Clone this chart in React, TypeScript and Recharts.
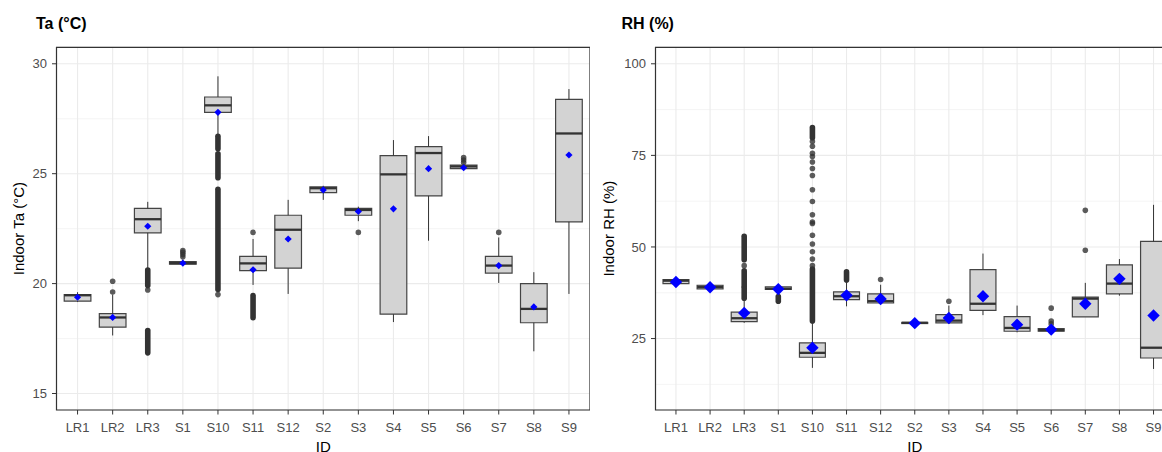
import React from 'react';
import {
  ComposedChart,
  XAxis,
  YAxis,
  CartesianGrid,
  ReferenceArea,
  ReferenceLine,
  Scatter,
  Label,
} from 'recharts';

const FONT = '"Liberation Sans", Arial, sans-serif';

// categories (sites)
const IDS = ['LR1', 'LR2', 'LR3', 'S1', 'S10', 'S11', 'S12', 'S2', 'S3', 'S4', 'S5', 'S6', 'S7', 'S8', 'S9'];

// Indoor Ta (°C) box stats
const TA_LO = [19.16, 17.64, 20.7, 20.86, 26.75, 19.94, 19.53, 23.81, 22.84, 18.25, 21.95, 25.2, 20.03, 16.92, 19.53];
const TA_Q1 = [19.2, 18.02, 22.31, 20.88, 27.79, 20.59, 20.7, 24.14, 23.11, 18.61, 23.99, 25.23, 20.48, 18.22, 22.81];
const TA_MED = [19.47, 18.46, 22.93, 20.93, 28.11, 20.92, 22.45, 24.34, 23.35, 24.97, 25.94, 25.33, 20.82, 18.85, 26.83];
const TA_Q3 = [19.5, 18.63, 23.42, 21.0, 28.49, 21.24, 23.11, 24.4, 23.42, 25.82, 26.23, 25.39, 21.24, 20.0, 28.38];
const TA_HI = [19.61, 19.5, 23.72, 21.1, 29.43, 22.03, 23.81, 24.45, 23.5, 26.53, 26.71, 25.45, 22.1, 20.52, 28.85];
const TA_MEAN = [19.38, 18.46, 22.61, 20.93, 27.79, 20.63, 22.03, 24.26, 23.28, 23.4, 25.23, 25.27, 20.82, 18.94, 25.85];
// single outliers [id, value]
const TA_OUT: [string, number][] = [
  ['LR2', 19.62], ['LR2', 20.11], ['LR3', 19.71], ['S1', 21.22], ['S1', 21.32], ['S1', 21.42], ['S1', 21.5],
  ['S10', 19.5], ['S11', 22.33], ['S3', 22.33], ['S6', 25.51], ['S6', 25.62], ['S6', 25.73], ['S7', 22.33],
];
// dense outlier runs [id, from, to]
const TA_RUNS: [string, number, number][] = [
  ['LR3', 19.91, 20.62], ['LR3', 16.85, 17.87], ['S10', 26.13, 26.7], ['S10', 24.82, 25.91],
  ['S10', 19.73, 24.29], ['S11', 18.45, 19.46],
];

// Indoor RH (%) box stats
const RH_LO = [39.8, 38.3, 29.3, 37.4, 17.0, 33.8, 34.5, 29.0, 29.0, 31.4, 26.7, 26.9, 30.9, 36.7, 16.7];
const RH_Q1 = [40.0, 38.55, 29.6, 38.4, 19.9, 35.6, 34.7, 29.1, 29.3, 32.7, 27.0, 27.0, 30.9, 37.2, 19.7];
const RH_MED = [40.8, 39.1, 30.55, 38.6, 21.1, 36.55, 35.2, 29.3, 29.9, 34.5, 27.9, 27.3, 35.9, 40.0, 22.5];
const RH_Q3 = [41.1, 39.55, 32.2, 39.1, 23.8, 37.75, 37.2, 29.4, 31.55, 43.8, 31.0, 27.7, 36.3, 45.1, 51.5];
const RH_HI = [41.3, 39.8, 35.5, 39.3, 29.3, 40.9, 39.7, 29.5, 34.0, 48.2, 34.0, 28.3, 40.2, 46.7, 61.5];
const RH_MEAN = [40.45, 39.0, 32.0, 38.5, 22.5, 36.8, 35.8, 29.2, 30.6, 36.55, 28.8, 27.45, 34.5, 41.3, 31.3];
const RH_OUT: [string, number][] = [
  ['LR3', 44.9], ['S10', 44.9], ['S10', 46.7], ['S10', 48.7], ['S10', 50.8], ['S10', 53.2], ['S10', 56.4],
  ['S10', 56.8], ['S10', 58.8], ['S10', 62.4], ['S10', 65.6], ['S10', 69.5], ['S10', 71.4], ['S10', 73.2],
  ['S10', 74.7], ['S10', 75.6], ['S10', 77.5], ['S10', 78.8], ['S12', 41.1], ['S3', 35.2], ['S6', 29.0],
  ['S6', 29.8], ['S6', 33.3], ['S7', 49.1], ['S7', 60.0],
];
const RH_RUNS: [string, number, number][] = [
  ['LR3', 36.0, 38.8], ['LR3', 39.3, 43.5], ['LR3', 46.5, 52.9], ['S1', 35.2, 36.5],
  ['S10', 29.8, 44.0], ['S10', 79.8, 82.6], ['S11', 41.0, 43.2],
];

// axis settings
const X_DOMAIN: [number, number] = [0.4, 15.6];
const X_TICKS = IDS.map((_, i) => i + 1);
const TA_DOMAIN: [number, number] = [14.25, 30.75];
const TA_TICKS = [15, 20, 25, 30];
const TA_MINOR = [17.5, 22.5, 27.5];
const RH_DOMAIN: [number, number] = [5.5, 104.5];
const RH_TICKS = [25, 50, 75, 100];
const RH_MINOR = [12.5, 37.5, 62.5, 87.5];

const HALF = 0.38;

const diamond = (r: number) => (props: any) => {
  const { cx, cy } = props;
  if (cx == null || cy == null) return <g />;
  return (
    <polygon
      points={`${cx},${cy - r} ${cx + r},${cy} ${cx},${cy + r} ${cx - r},${cy}`}
      fill="#0000ff"
    />
  );
};

const dot = (props: any) => {
  const { cx, cy } = props;
  if (cx == null || cy == null) return <g />;
  return <circle cx={cx} cy={cy} r={2.8} fill="#333333" fillOpacity={0.8} />;
};

interface PanelProps {
  width: number;
  yAxisWidth: number;
  lo: number[];
  q1: number[];
  med: number[];
  q3: number[];
  hi: number[];
  mean: number[];
  outliers: [string, number][];
  runs: [string, number, number][];
  domain: [number, number];
  ticks: number[];
  minor: number[];
  yTitle: string;
  meanSize: number;
}

const BoxPanel = (p: PanelProps) => {
  const meanData = IDS.map((id, i) => ({ x: i + 1, y: p.mean[i] }));
  const outData = p.outliers.map(([id, v]) => ({ x: IDS.indexOf(id) + 1, y: v }));
  const tickStyle = { fill: '#4d4d4d', fontSize: 13, fontFamily: FONT };
  const titleStyle = { fill: '#000', fontSize: 15, fontFamily: FONT, textAnchor: 'middle' as const };

  return (
    <ComposedChart width={p.width} height={452} margin={{ top: 47.3, right: 0, left: 0, bottom: 0 }}>
      <CartesianGrid stroke="#ebebeb" strokeWidth={1.1} />
      <CartesianGrid stroke="#ebebeb" strokeWidth={0.55} vertical={false} horizontalValues={p.minor} />
      <XAxis
        type="number"
        dataKey="x"
        domain={X_DOMAIN}
        ticks={X_TICKS}
        interval={0}
        allowDataOverflow
        tickFormatter={(v: number) => IDS[v - 1]}
        axisLine={false}
        tickLine={{ stroke: '#333' }}
        tickSize={4.5}
        tickMargin={8}
        height={42}
        tick={tickStyle}
      >
        <Label value="ID" position="insideBottom" offset={0} style={titleStyle} />
      </XAxis>
      <YAxis
        type="number"
        dataKey="y"
        domain={p.domain}
        ticks={p.ticks}
        allowDataOverflow
        axisLine={false}
        tickLine={{ stroke: '#333' }}
        tickSize={4.5}
        tickMargin={5}
        width={p.yAxisWidth}
        tick={tickStyle}
      >
        <Label value={p.yTitle} angle={-90} position="insideLeft" offset={19} style={titleStyle} />
      </YAxis>

      {/* whiskers */}
      {IDS.map((id, i) => (
        <ReferenceLine
          key={`wl-${id}`}
          segment={[{ x: i + 1, y: p.lo[i] }, { x: i + 1, y: p.q1[i] }]}
          stroke="#333"
          strokeWidth={1}
        />
      ))}
      {IDS.map((id, i) => (
        <ReferenceLine
          key={`wh-${id}`}
          segment={[{ x: i + 1, y: p.q3[i] }, { x: i + 1, y: p.hi[i] }]}
          stroke="#333"
          strokeWidth={1}
        />
      ))}
      {/* boxes */}
      {IDS.map((id, i) => (
        <ReferenceArea
          key={`box-${id}`}
          x1={i + 1 - HALF}
          x2={i + 1 + HALF}
          y1={p.q1[i]}
          y2={p.q3[i]}
          fill="#d3d3d3"
          fillOpacity={1}
          stroke="#444"
          strokeWidth={1.2}
        />
      ))}
      {/* medians */}
      {IDS.map((id, i) => (
        <ReferenceLine
          key={`med-${id}`}
          segment={[{ x: i + 1 - HALF, y: p.med[i] }, { x: i + 1 + HALF, y: p.med[i] }]}
          stroke="#333"
          strokeWidth={2.3}
        />
      ))}
      {/* dense outlier runs */}
      {p.runs.map(([id, a, b], k) => (
        <ReferenceLine
          key={`run-${k}`}
          segment={[{ x: IDS.indexOf(id) + 1, y: a }, { x: IDS.indexOf(id) + 1, y: b }]}
          stroke="#333"
          strokeWidth={5.6}
          strokeLinecap="round"
        />
      ))}
      <Scatter data={outData} shape={dot} isAnimationActive={false} />
      <Scatter data={meanData} shape={diamond(p.meanSize)} isAnimationActive={false} />
      {/* panel border */}
      <ReferenceArea
        x1={X_DOMAIN[0]}
        x2={X_DOMAIN[1]}
        y1={p.domain[0]}
        y2={p.domain[1]}
        fill="none"
        stroke="#333"
        strokeWidth={1.2}
      />
    </ComposedChart>
  );
};

const titleCss: React.CSSProperties = {
  position: 'absolute',
  top: 14,
  fontFamily: FONT,
  fontWeight: 'bold',
  fontSize: 16,
  color: '#000',
  lineHeight: '20px',
  margin: 0,
};

export default function App() {
  return (
    <div
      style={{
        position: 'fixed',
        left: 0,
        top: 0,
        width: 1162,
        height: 452,
        overflow: 'hidden',
        background: '#fff',
      }}
    >
      <div style={{ position: 'absolute', left: 0, top: 0 }}>
        <BoxPanel
          width={590}
          yAxisWidth={56.5}
          lo={TA_LO}
          q1={TA_Q1}
          med={TA_MED}
          q3={TA_Q3}
          hi={TA_HI}
          mean={TA_MEAN}
          outliers={TA_OUT}
          runs={TA_RUNS}
          domain={TA_DOMAIN}
          ticks={TA_TICKS}
          minor={TA_MINOR}
          yTitle="Indoor Ta (°C)"
          meanSize={3.6}
        />
      </div>
      <div style={{ position: 'absolute', left: 590, top: 0 }}>
        <BoxPanel
          width={584}
          yAxisWidth={65.5}
          lo={RH_LO}
          q1={RH_Q1}
          med={RH_MED}
          q3={RH_Q3}
          hi={RH_HI}
          mean={RH_MEAN}
          outliers={RH_OUT}
          runs={RH_RUNS}
          domain={RH_DOMAIN}
          ticks={RH_TICKS}
          minor={RH_MINOR}
          yTitle="Indoor RH (%)"
          meanSize={6.2}
        />
      </div>
      <div style={{ ...titleCss, left: 36 }}>Ta (°C)</div>
      <div style={{ ...titleCss, left: 621.5 }}>RH (%)</div>
    </div>
  );
}
